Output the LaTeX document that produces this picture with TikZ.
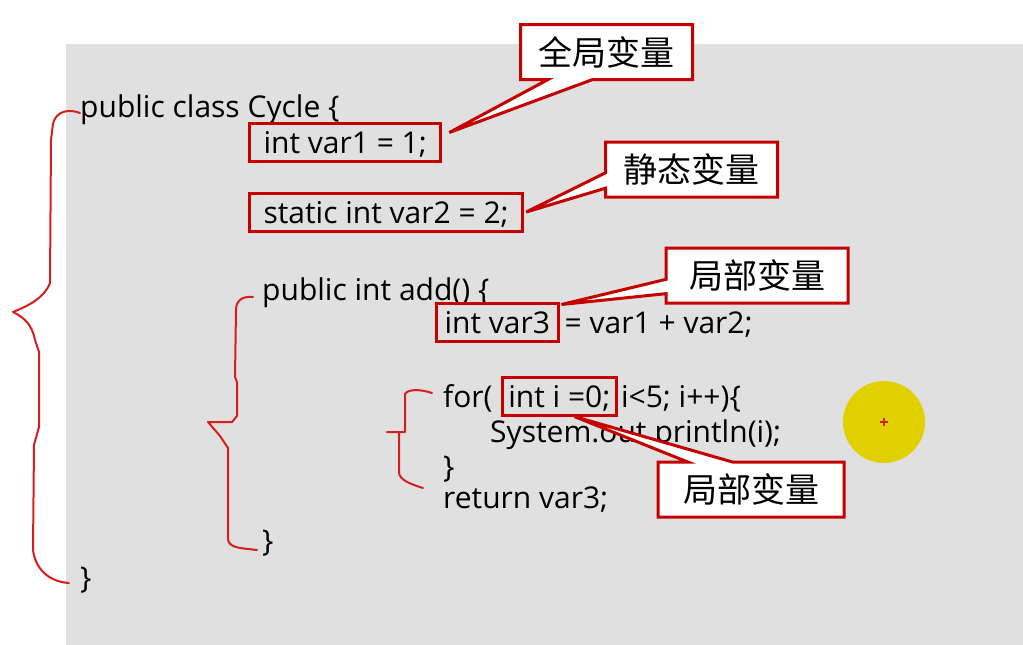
\documentclass[tikz,border=0pt]{standalone}
\usepackage{fontspec}
\setmainfont{Open Sans}
\newfontfamily\cjkfont{Noto Sans CJK SC}
\usetikzlibrary{calc,positioning}
\definecolor{slidegray}{RGB}{224,224,224}
\definecolor{boxred}{RGB}{196,0,0}
\definecolor{penred}{RGB}{214,30,30}
\definecolor{cursoryellow}{RGB}{224,208,0}
\tikzset{
  code/.style={anchor=base west, inner sep=0pt, font=\fontsize{30}{35}\selectfont},
  codebox/.style={code, draw=boxred, line width=3pt, text height=30pt, text depth=8pt, inner ysep=0pt, inner xsep=14pt},
  callouttext/.style={fill=white, inner xsep=18pt, inner ysep=0pt, minimum height=55pt, text height=30pt, text depth=4pt, outer sep=0pt, font=\cjkfont\fontsize{34}{40}\selectfont},
  calloutline/.style={draw=boxred, line width=3pt},
  pen/.style={draw=penred, line width=2pt, line cap=round, line join=round}
}
\begin{document}
\begin{tikzpicture}[x=1pt,y=-1pt]
  \useasboundingbox (0,0) rectangle (1023,645);
  \fill[slidegray] (66,44) rectangle (1023,645);

  % hand drawn braces
  \draw[pen] (80,113) .. controls (70,109) and (56,110) .. (53,124) -- (51,140) -- (50,283)
    .. controls (44,298) and (30,305) .. (13,312) .. controls (25,318) and (32,325) .. (35,340)
    -- (39,352) -- (39,427) -- (34,445) -- (33,550) .. controls (36,572) and (52,582) .. (69,583);
  \draw[pen] (253,297) .. controls (243,296) and (236,300) .. (236,310) -- (235,377) -- (237,382)
    -- (237,416) -- (232,422) -- (208,422) -- (220,436) -- (228,448) -- (228,540)
    .. controls (230,548) and (240,548) .. (257,550);
  \draw[pen] (432,393) .. controls (420,389) and (408,389) .. (405,394) -- (405,432) -- (387,432)
    (399,432) -- (399,473) .. controls (400,480) and (410,484) .. (423,488);

  % code
  \node[code] (cls) at (80,117) {public class Cycle \{};
  \node[codebox] (var1box) at (248,153) {int var1 = 1;};
  \node[codebox] (var2box) at (248,223) {static int var2 = 2;};
  \node[code] (add) at (262,300) {public int add() \{};
  \node[codebox, inner xsep=8pt] (var3box) at (435,333) {int var3};
  \node[code] (var3rest) at ([xshift=5pt]var3box.base east) {= var1 + var2;};
  \node[code] (for) at (443,407) {for(};
  \node[codebox, inner xsep=6pt] (loopvar) at ([xshift=8pt]for.base east) {int i =0;};
  \node[code] (forrest) at ([xshift=3pt]loopvar.base east) {i<5; i++)\{};
  \node[code] (println) at (490,442) {System.out.println(i);};
  \node[code] (forend) at (443,477) {\}};
  \node[code] (ret) at (443,508) {return var3;};
  \node[code] (addend) at (262,551) {\}};
  \node[code] (clsend) at (80,588) {\}};

  % callouts
  \node[callouttext] (c1) at (606.5,52) {全局变量};
  \coordinate (c1tip) at ($(var1box.north east)+(7,11)$);
  \fill[white] ($(c1.south west)!0.16!(c1.south east)$) -- (c1tip) -- ($(c1.south west)!0.42!(c1.south east)$) -- cycle;
  \draw[calloutline] (c1.south west) -- (c1.north west) -- (c1.north east) -- (c1.south east)
    -- ($(c1.south west)!0.42!(c1.south east)$) -- (c1tip) -- ($(c1.south west)!0.16!(c1.south east)$) -- cycle;

  \node[callouttext] (c2) at (691.5,169.5) {静态变量};
  \coordinate (c2tip) at ($(var2box.east)+(2,0)$);
  \fill[white] ($(c2.north west)!0.56!(c2.south west)$) -- (c2tip) -- ($(c2.north west)!0.84!(c2.south west)$) -- cycle;
  \draw[calloutline] (c2.north west) -- (c2.north east) -- (c2.south east) -- (c2.south west)
    -- ($(c2.north west)!0.84!(c2.south west)$) -- (c2tip) -- ($(c2.north west)!0.56!(c2.south west)$) -- cycle;

  \node[callouttext, minimum width=182pt] (c3) at (757,275.5) {局部变量};
  \coordinate (c3tip) at ($(var3box.north east)+(2,3)$);
  \fill[white] ($(c3.north west)!0.57!(c3.south west)$) -- (c3tip) -- ($(c3.north west)!0.83!(c3.south west)$) -- cycle;
  \draw[calloutline] (c3.north west) -- (c3.north east) -- (c3.south east) -- (c3.south west)
    -- ($(c3.north west)!0.83!(c3.south west)$) -- (c3tip) -- ($(c3.north west)!0.57!(c3.south west)$) -- cycle;

  \node[callouttext, minimum width=186pt] (c4) at (751,489.5) {局部变量};
  \coordinate (c4tip) at ($(loopvar.south)+(15,0)$);
  \fill[white] ($(c4.north west)!0.16!(c4.north east)$) -- (c4tip) -- ($(c4.north west)!0.40!(c4.north east)$) -- cycle;
  \draw[calloutline] (c4.south west) -- (c4.north west) -- ($(c4.north west)!0.16!(c4.north east)$) -- (c4tip)
    -- ($(c4.north west)!0.40!(c4.north east)$) -- (c4.north east) -- (c4.south east) -- cycle;

  % cursor spot
  \fill[cursoryellow] (884,422) circle (41);
  \draw[penred, line width=1.5pt] (880,422) -- (888,422) (884,418) -- (884,426);
\end{tikzpicture}
\end{document}
